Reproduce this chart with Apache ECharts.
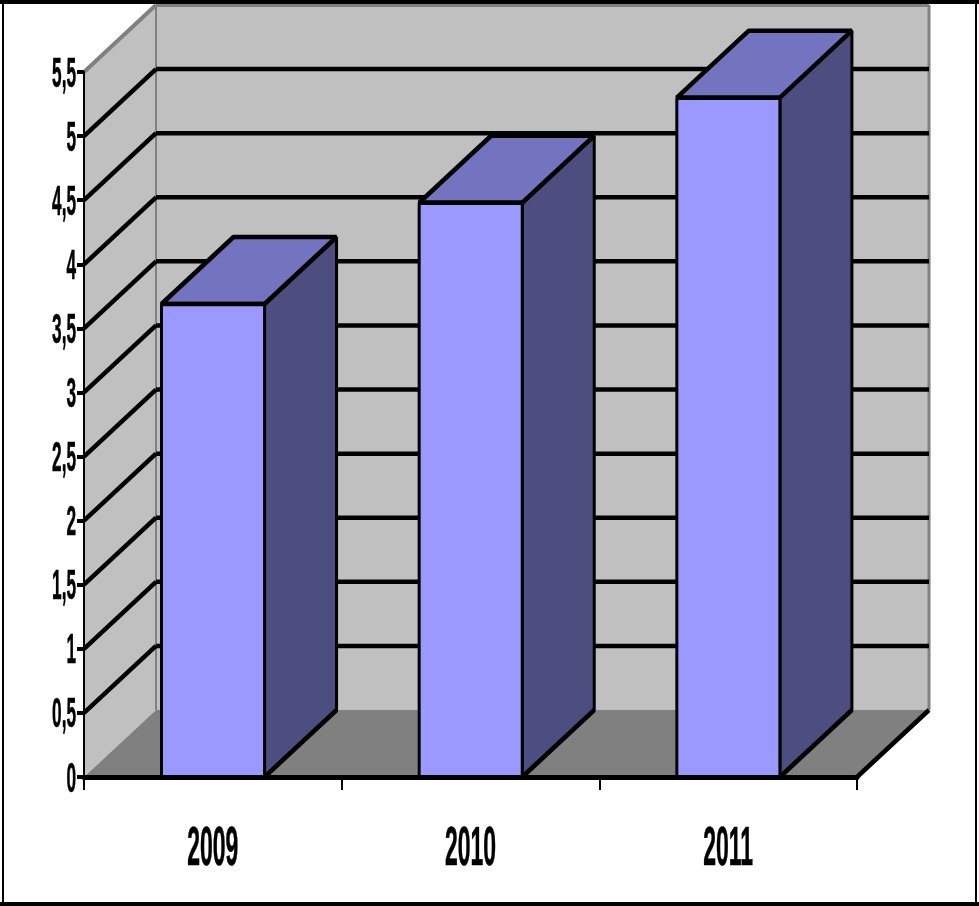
<!DOCTYPE html>
<html lang="en">

<head>
    <meta charset="UTF-8">
    <title>2009-2011</title>
    <script src="https://cdn.jsdelivr.net/npm/echarts/dist/echarts.min.js"></script>
    <style>
        html, body { margin: 0; padding: 0; background: #fff; }
        #chart { width: 979px; height: 906px; }
    </style>
</head>

<body>
    <div id="chart"></div>

    <script>
        const years = ['2009', '2010', '2011'];
        const values = [3.69, 4.48, 5.3];
        const yTicks = [0, 0.5, 1, 1.5, 2, 2.5, 3, 3.5, 4, 4.5, 5, 5.5];
        const yTickLabels = ['0', '0,5', '1', '1,5', '2', '2,5', '3', '3,5', '4', '4,5', '5', '5,5'];

        // fake 3D depth, in pixels
        const DX = 72;
        const DY = -67;

        function poly(points, fill, stroke, lineWidth) {
            return {
                type: 'polygon',
                shape: { points: points },
                style: { fill: fill, stroke: stroke || null, lineWidth: lineWidth || 0, lineJoin: 'bevel' }
            };
        }

        function line(p1, p2, stroke, lineWidth) {
            return {
                type: 'line',
                shape: { x1: p1[0], y1: p1[1], x2: p2[0], y2: p2[1] },
                style: { stroke: stroke, lineWidth: lineWidth }
            };
        }

        function back(p) {
            return [p[0] + DX, p[1] + DY];
        }

        function renderWalls(params, api) {
            const half = api.size([1, 0])[0] / 2;
            const a = api.coord([0, 0]);
            const top = api.coord([0, 5.5]);
            const bl = [a[0] - half, a[1]];
            const tl = [top[0] - half, top[1]];
            const br = [a[0] + half * 5, a[1]];
            const tr = [top[0] + half * 5, top[1]];
            return {
                type: 'group',
                children: [
                    poly([back(tl), back(tr), back(br), back(bl)], '#c0c0c0'),
                    poly([tl, back(tl), back(bl), bl], '#c0c0c0'),
                    poly([bl, back(bl), back(br), br], '#808080'),
                    line(tl, back(tl), '#808080', 4),
                    line(back(tl), back(bl), '#808080', 2),
                    line(back(tl), back(tr), '#808080', 4),
                    line(back(tr), back(br), '#808080', 3),
                    line(br, back(br), '#000', 4.5)
                ]
            };
        }

        function renderGrid(params, api) {
            const half = api.size([1, 0])[0] / 2;
            const v = api.value(1);
            const c = api.coord([0, v]);
            const left = [c[0] - half, c[1]];
            const right = [c[0] + half * 5, c[1]];
            return {
                type: 'group',
                children: [
                    line(left, back(left), '#000', 4.5),
                    line(back(left), back(right), '#000', 4.5)
                ]
            };
        }

        function renderBar(params, api) {
            const i = api.value(0);
            const top = api.coord([i, api.value(1)]);
            const base = api.coord([i, 0]);
            const w = api.size([1, 0])[0] * 0.4;
            const fl = [top[0] - w / 2 + 0.2, top[1]];
            const fr = [top[0] + w / 2 + 0.2, top[1]];
            const bl = [base[0] - w / 2 + 0.2, base[1]];
            const br = [base[0] + w / 2 + 0.2, base[1]];
            return {
                type: 'group',
                children: [
                    poly([fr, back(fr), back(br), br], '#4d4d80', '#000', 3),
                    line(br, back(br), '#000', 4.5),
                    poly([fl, back(fl), back(fr), fr], '#7373bf', '#000', 4.5),
                    poly([fl, fr, br, bl], '#9999ff', '#000', 3),
                    line(fl, fr, '#000', 4.5)
                ]
            };
        }

        function renderYLabel(params, api) {
            const half = api.size([1, 0])[0] / 2;
            const c = api.coord([0, api.value(1)]);
            return {
                type: 'text',
                x: c[0] - half - 8,
                y: c[1] + 3,
                scaleX: 0.41,
                style: {
                    text: yTickLabels[params.dataIndex],
                    font: 'bold 42px "Liberation Sans"',
                    fill: '#000',
                    stroke: '#000',
                    lineWidth: 0.6,
                    align: 'right',
                    verticalAlign: 'middle'
                }
            };
        }

        function renderXLabel(params, api) {
            const c = api.coord([api.value(0), 0]);
            return {
                type: 'text',
                x: c[0],
                y: c[1] + 73,
                scaleX: 0.41,
                style: {
                    text: years[params.dataIndex],
                    font: 'bold 56px "Liberation Sans"',
                    fill: '#000',
                    stroke: '#000',
                    lineWidth: 0.6,
                    align: 'center',
                    verticalAlign: 'middle'
                }
            };
        }

        function frameRect(x, y, width, height) {
            return { type: 'rect', z: 100, shape: { x: x, y: y, width: width, height: height }, style: { fill: '#000' } };
        }

        const chart = echarts.init(document.getElementById('chart'));

        const option = {
            animation: false,
            backgroundColor: '#fff',
            grid: { left: 84, right: 122, top: 72, bottom: 129 },
            tooltip: { show: false },
            xAxis: {
                type: 'category',
                data: years,
                z: 10,
                axisLine: { lineStyle: { color: '#000', width: 5 } },
                axisTick: { show: true, alignWithLabel: false, length: 13, lineStyle: { color: '#000', width: 2 } },
                axisLabel: { show: false },
                splitLine: { show: false }
            },
            yAxis: {
                type: 'value',
                min: 0,
                max: 5.5,
                interval: 0.5,
                z: 10,
                axisLine: { show: true, lineStyle: { color: '#000', width: 2 } },
                axisTick: { show: true, length: 7, lineStyle: { color: '#000', width: 4 } },
                axisLabel: { show: false },
                splitLine: { show: false }
            },
            // outer frame
            graphic: [
                frameRect(0, 0, 979, 4),
                frameRect(0, 902, 979, 4),
                frameRect(2, 0, 2, 906),
                frameRect(975, 0, 2, 906)
            ],
            series: [
                { type: 'custom', z: 1, clip: false, silent: true, renderItem: renderWalls, data: [[0, 0]] },
                { type: 'custom', z: 2, clip: false, silent: true, renderItem: renderGrid, data: yTicks.slice(1, -1).map(v => [0, v]) },
                { type: 'custom', z: 3, clip: false, silent: true, renderItem: renderBar, data: values.map((v, i) => [i, v]) },
                { type: 'custom', z: 4, clip: false, silent: true, renderItem: renderYLabel, data: yTicks.map(v => [0, v]) },
                { type: 'custom', z: 4, clip: false, silent: true, renderItem: renderXLabel, data: years.map((y, i) => [i, 0]) }
            ]
        };

        chart.setOption(option);
    </script>
</body>

</html>
